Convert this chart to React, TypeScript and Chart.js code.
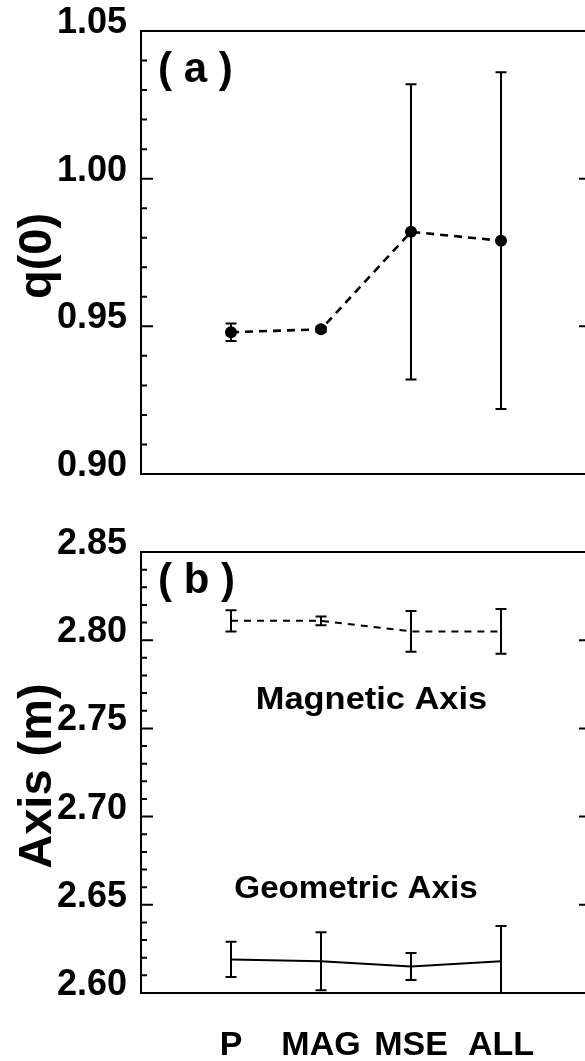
import React, { useEffect, useRef } from 'react';
import { Chart, registerables } from 'chart.js';

Chart.register(...registerables);

const FONT = '"Liberation Sans", Arial, Helvetica, sans-serif';

// ---- data ----
const categories = ['P', 'MAG', 'MSE', 'ALL'];
const q0Values = [0.948, 0.949, 0.982, 0.979];
const q0Errors = [0.003, 0.0008, 0.05, 0.057];
const magneticAxis = [2.811, 2.811, 2.805, 2.805];
const magneticErrors = [0.006, 0.0025, 0.0115, 0.0127];
const geometricAxis = [2.619, 2.618, 2.615, 2.618];
const geometricErrors = [0.01, 0.0165, 0.0077, 0.02];
const q0Ticks = [0.9, 0.95, 1.0, 1.05];
const axisTicks = [2.6, 2.65, 2.7, 2.75, 2.8, 2.85];

const toPoints = (vals: number[]) => vals.map((v, i) => ({ x: i, y: v }));

// ---- plugins ----
const errorBarPlugin = {
  id: 'errorBars',
  beforeDatasetsDraw(chart: any) {
    const { ctx, chartArea: a } = chart;
    ctx.save();
    ctx.beginPath();
    ctx.rect(a.left, a.top - 1, a.right - a.left, a.bottom - a.top + 2);
    ctx.clip();
    chart.data.datasets.forEach((ds: any, di: number) => {
      const errs: number[] = ds.errorBars;
      if (!errs) return;
      const meta = chart.getDatasetMeta(di);
      const ys = chart.scales[meta.yAxisID];
      const xs = chart.scales[meta.xAxisID];
      ds.data.forEach((pt: any, i: number) => {
        const x = xs.getPixelForValue(pt.x);
        const top = ys.getPixelForValue(pt.y + errs[i]);
        const bot = ys.getPixelForValue(pt.y - errs[i]);
        ctx.strokeStyle = '#000';
        ctx.lineWidth = 2;
        ctx.setLineDash([]);
        ctx.beginPath();
        ctx.moveTo(x, top);
        ctx.lineTo(x, bot);
        ctx.moveTo(x - 5.5, top);
        ctx.lineTo(x + 5.5, top);
        ctx.moveTo(x - 5.5, bot);
        ctx.lineTo(x + 5.5, bot);
        ctx.stroke();
      });
    });
    ctx.restore();
  },
};

const framePlugin = {
  id: 'frame',
  afterDatasetsDraw(chart: any, _args: any, opts: any) {
    const { ctx, chartArea: a } = chart;
    const y = chart.scales.y;
    ctx.save();
    ctx.strokeStyle = '#000';
    ctx.lineWidth = 2;
    ctx.setLineDash([]);
    ctx.strokeRect(a.left, a.top, a.right - a.left, a.bottom - a.top);
    const minor = opts.minor as number;
    const major = opts.major as number;
    const n = Math.round((y.max - y.min) / minor);
    ctx.beginPath();
    for (let i = 0; i <= n; i++) {
      const v = y.min + i * minor;
      const py = y.getPixelForValue(v);
      const r = v / major;
      const isMajor = Math.abs(r - Math.round(r)) < 1e-6;
      const len = isMajor ? 12 : 6;
      ctx.moveTo(a.left, py);
      ctx.lineTo(a.left + len, py);
      ctx.moveTo(a.right, py);
      ctx.lineTo(a.right - len, py);
    }
    ctx.stroke();
    ctx.restore();
  },
};

const textPlugin = {
  id: 'texts',
  afterDraw(chart: any, _args: any, opts: any) {
    const { ctx, chartArea: a } = chart;
    ctx.save();
    ctx.fillStyle = '#000';
    // y-axis title (rotated)
    if (opts.title) {
      ctx.save();
      ctx.font = `bold 47px ${FONT}`;
      ctx.translate(51, (a.top + a.bottom) / 2 + 3.5);
      ctx.rotate(-Math.PI / 2);
      ctx.textAlign = 'center';
      ctx.textBaseline = 'alphabetic';
      ctx.fillText(opts.title, 0, 0);
      ctx.restore();
    }
    // panel letter
    if (opts.panel) {
      ctx.save();
      ctx.font = `bold 42px ${FONT}`;
      ctx.textAlign = 'left';
      ctx.textBaseline = 'alphabetic';
      ctx.fillText(opts.panel.text, a.left + 17, a.top + opts.panel.dy);
      ctx.restore();
    }
    // in-plot labels at data coordinates
    (opts.labels || []).forEach((l: any) => {
      const px = chart.scales.x.getPixelForValue(l.x);
      const py = chart.scales.y.getPixelForValue(l.y);
      ctx.save();
      ctx.font = `bold 31px ${FONT}`;
      ctx.translate(px, py);
      ctx.scale(l.sx, 1);
      ctx.textAlign = 'center';
      ctx.textBaseline = 'alphabetic';
      ctx.fillText(l.text, 0, 0);
      ctx.restore();
    });
    ctx.restore();
  },
};

const yTickFont = { family: FONT, size: 36, weight: 'bold' as const };

function makeYAxis(min: number, max: number, ticks: number[]) {
  return {
    type: 'linear' as const,
    min,
    max,
    afterBuildTicks: (s: any) => {
      s.ticks = ticks.map((v) => ({ value: v }));
    },
    afterFit: (s: any) => {
      s.width = 141;
      s.paddingTop = 0;
      s.paddingBottom = 0;
      s.paddingLeft = 0;
      s.paddingRight = 0;
    },
    grid: { display: false, drawTicks: false },
    border: { display: false },
    ticks: {
      padding: 14,
      labelOffset: -8,
      color: '#000',
      font: yTickFont,
      autoSkip: false,
      callback: (v: any) => Number(v).toFixed(2),
    },
  };
}

export default function App() {
  const refA = useRef<HTMLCanvasElement>(null);
  const refB = useRef<HTMLCanvasElement>(null);

  useEffect(() => {
    const chartA = new Chart(refA.current as HTMLCanvasElement, {
      type: 'line',
      data: {
        datasets: [
          {
            data: toPoints(q0Values),
            borderColor: '#000',
            borderWidth: 2.6,
            borderDash: [8, 6],
            pointRadius: 6,
            pointBackgroundColor: '#000',
            pointBorderColor: '#000',
            pointBorderWidth: 0,
            tension: 0,
            fill: false,
            errorBars: q0Errors,
          } as any,
        ],
      },
      options: {
        responsive: false,
        animation: false,
        devicePixelRatio: 1,
        layout: { autoPadding: false, padding: { top: 31, bottom: 26, left: 0, right: 9 } },
        plugins: {
          legend: { display: false },
          tooltip: { enabled: false },
          frame: { minor: 0.01, major: 0.05 },
          texts: { title: 'q(0)', panel: { text: '( a )', dy: 51 } },
        } as any,
        scales: {
          x: { type: 'linear', min: -1, max: 4, display: false },
          y: makeYAxis(0.9, 1.05, q0Ticks),
        } as any,
      },
      plugins: [errorBarPlugin, framePlugin, textPlugin],
    });

    const chartB = new Chart(refB.current as HTMLCanvasElement, {
      type: 'line',
      data: {
        datasets: [
          {
            label: 'Magnetic Axis',
            data: toPoints(magneticAxis),
            borderColor: '#000',
            borderWidth: 2,
            borderDash: [7, 6],
            pointRadius: 0,
            tension: 0,
            fill: false,
            errorBars: magneticErrors,
          } as any,
          {
            label: 'Geometric Axis',
            data: toPoints(geometricAxis),
            borderColor: '#000',
            borderWidth: 2,
            pointRadius: 0,
            tension: 0,
            fill: false,
            errorBars: geometricErrors,
          } as any,
        ],
      },
      options: {
        responsive: false,
        animation: false,
        devicePixelRatio: 1,
        layout: { autoPadding: false, padding: { top: 52, bottom: 0, left: 0, right: 9 } },
        plugins: {
          legend: { display: false },
          tooltip: { enabled: false },
          frame: { minor: 0.01, major: 0.05 },
          texts: {
            title: 'Axis (m)',
            panel: { text: '( b )', dy: 41 },
            labels: [
              { text: 'Magnetic Axis', x: 1.561, y: 2.7611, sx: 1.11 },
              { text: 'Geometric Axis', x: 1.389, y: 2.654, sx: 1.07 },
            ],
          },
        } as any,
        scales: {
          x: {
            type: 'linear',
            min: -1,
            max: 4,
            position: 'bottom',
            afterBuildTicks: (s: any) => {
              s.ticks = categories.map((_, i) => ({ value: i }));
            },
            afterFit: (s: any) => {
              s.height = 68;
              s.paddingLeft = 0;
              s.paddingRight = 0;
            },
            grid: { display: false, drawTicks: false },
            border: { display: false },
            ticks: {
              padding: 32,
              color: '#000',
              autoSkip: false,
              maxRotation: 0,
              minRotation: 0,
              font: { family: FONT, size: 34, weight: 'bold' },
              callback: (v: any) => categories[Math.round(Number(v))] ?? '',
            },
          },
          y: makeYAxis(2.6, 2.85, axisTicks),
        } as any,
      },
      plugins: [errorBarPlugin, framePlugin, textPlugin],
    });

    return () => {
      chartA.destroy();
      chartB.destroy();
    };
  }, []);

  return (
    <div
      style={{
        position: 'absolute',
        left: 0,
        top: 0,
        width: 585,
        height: 1061,
        overflow: 'hidden',
        background: '#fff',
      }}
    >
      <canvas
        ref={refA}
        width={600}
        height={500}
        style={{ position: 'absolute', left: 0, top: 0 }}
      />
      <canvas
        ref={refB}
        width={600}
        height={561}
        style={{ position: 'absolute', left: 0, top: 500 }}
      />
    </div>
  );
}
